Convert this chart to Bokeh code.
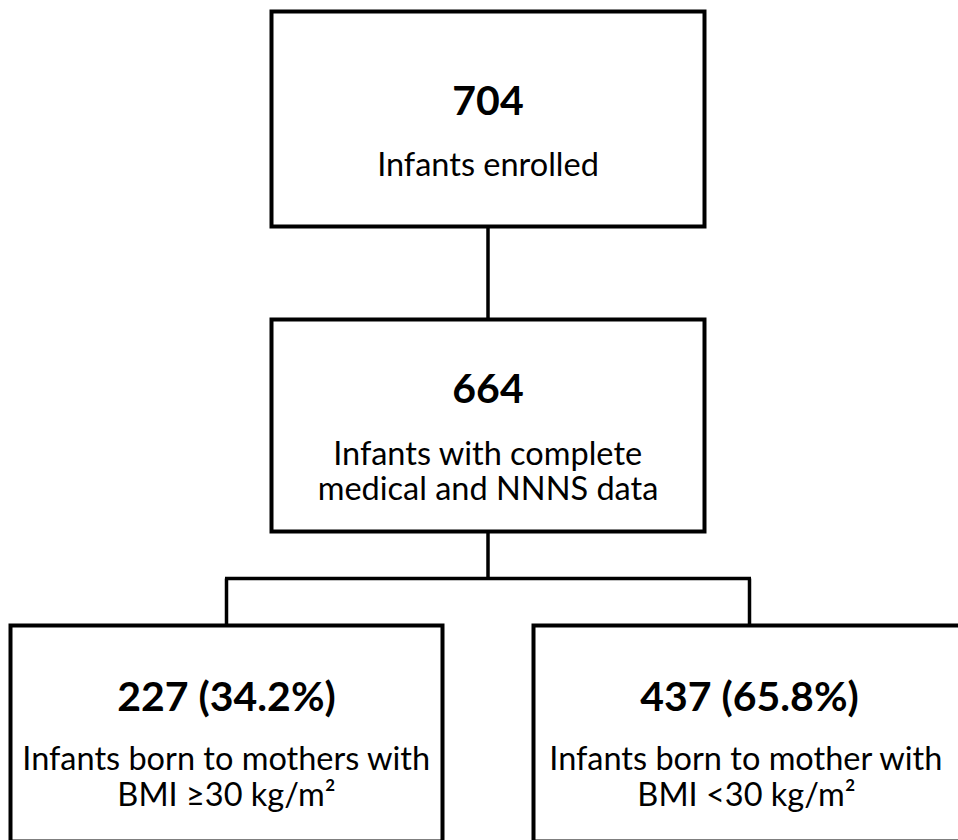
from bokeh.plotting import figure
from bokeh.models import Range1d
from bokeh.embed import file_html
from bokeh.resources import INLINE
from bokeh.core.properties import value

# ---- content ----
stage_counts = ["704", "664", "227 (34.2%)", "437 (65.8%)"]
stage_labels = [
    ["Infants enrolled"],
    ["Infants with complete", "medical and NNNS data"],
    ["Infants born to mothers with", "BMI \u226530 kg/m\u00b2"],
    ["Infants born to mother with", "BMI <30 kg/m\u00b2"],
]
# parent index of each stage (-1 = root)
stage_parent = [-1, 0, 1, 1]

# ---- layout (page pixels) ----
box_left = [271, 271, 10, 533]
box_right = [704, 704, 442, 965]
box_top = [11, 319, 625, 625]
box_bottom = [226, 531, 841, 841]
count_baseline = [100, 388, 695, 695]
label_baselines = [[163], [452, 487], [757, 793], [757, 793]]
split_y = 578

W, H = 958, 840
p = figure(width=W, height=H, output_backend="svg", toolbar_location=None,
           x_range=Range1d(0, W), y_range=Range1d(H, 0),
           min_border=0)
p.axis.visible = False
p.grid.visible = False
p.outline_line_color = None
p.background_fill_color = "white"
p.border_fill_color = "white"

cx = [(l + r) / 2 for l, r in zip(box_left, box_right)]

# connectors
xs, ys = [], []
for i, par in enumerate(stage_parent):
    if par < 0:
        continue
    siblings = [j for j, q in enumerate(stage_parent) if q == par]
    if len(siblings) == 1:
        xs.append([cx[par], cx[i]])
        ys.append([box_bottom[par], box_top[i]])
    else:
        xs.append([cx[i], cx[i]])
        ys.append([split_y, box_top[i]])
parents_split = sorted(set(q for q in stage_parent if q >= 0 and stage_parent.count(q) > 1))
for par in parents_split:
    kids = [j for j, q in enumerate(stage_parent) if q == par]
    xs.append([cx[par], cx[par]])
    ys.append([box_bottom[par], split_y])
    xs.append([min(cx[k] for k in kids) - 1.5, max(cx[k] for k in kids) + 1.5])
    ys.append([split_y, split_y])
p.multi_line(xs=xs, ys=ys, line_color="black", line_width=3.5)

# boxes
p.quad(left=box_left, right=box_right, top=box_top, bottom=box_bottom,
       fill_color="white", line_color="black", line_width=4, line_join="miter")

font = value("Lato")
p.text(x=cx, y=count_baseline, text=stage_counts, text_font=font,
       text_font_size="41px", text_font_style="bold", text_align="center",
       text_baseline="alphabetic", text_color="black")

lx, ly, lt = [], [], []
for i, lines in enumerate(stage_labels):
    for line, b in zip(lines, label_baselines[i]):
        lx.append(cx[i] - (3 if i == 3 else 0))
        ly.append(b)
        lt.append(line)
p.text(x=lx, y=ly, text=lt, text_font=font, text_font_size="32.5px",
       text_align="center", text_baseline="alphabetic", text_color="black")

open("out.html", "w").write(file_html(p, INLINE))
